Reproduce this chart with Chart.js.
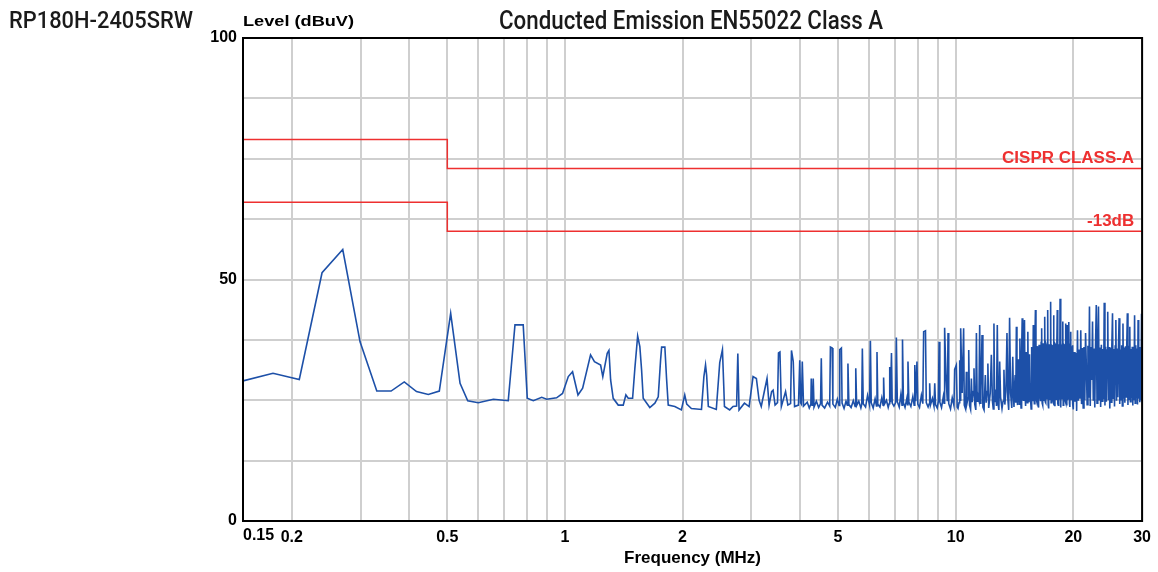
<!DOCTYPE html>
<html>
<head>
<meta charset="utf-8">
<title>RP180H-2405SRW Conducted Emission</title>
<script src="https://cdn.jsdelivr.net/npm/chart.js@4.4.1/dist/chart.umd.min.js"></script>
<style>
  html, body { margin: 0; padding: 0; background: #fff; }
  #wrap { position: relative; width: 1158px; height: 572px; }
</style>
</head>
<body>
<div id="wrap"><canvas id="emi-chart"></canvas></div>
<script>
'use strict';

// ─── texts ───────────────────────────────────────────────────────────────
const MODEL_NAME  = 'RP180H-2405SRW';
const CHART_TITLE = 'Conducted Emission EN55022 Class A';
const Y_TITLE     = 'Level (dBuV)';
const X_TITLE     = 'Frequency (MHz)';

// ─── axes ────────────────────────────────────────────────────────────────
const FREQ_TICKS     = [0.15, 0.2, 0.3, 0.4, 0.5, 0.6, 0.7, 0.8, 0.9, 1, 2, 3, 4, 5, 6, 7, 8, 9, 10, 20, 30];
const FREQ_TICK_TEXT = ['', '0.2', '', '', '0.5', '', '', '', '', '1', '2', '', '', '5', '', '', '', '', '10', '20', '30'];
const FREQ_FIRST_TEXT = '0.15';   // drawn left-aligned at the axis start
const LEVEL_LABELS   = [0, 50, 100];

// ─── limit lines (EN55022 class A, QP) ──────────────────────────────────
const LIMIT_FREQ    = [0.15, 0.5, 0.5, 30];
const LIMIT_CLASS_A = [79, 79, 73, 73];
const LIMIT_MARGIN  = [66, 66, 60, 60];
const LIMIT_NAMES   = ['CISPR CLASS-A', '-13dB'];

// ─── measured trace [MHz, dBuV] ─────────────────────────────────────────
const TRACE_LOW = [
  [0.150, 29.0], [0.179, 30.6], [0.209, 29.3], [0.239, 51.4], [0.270, 56.2],
  [0.299, 37.1], [0.330, 26.9], [0.359, 26.9], [0.388, 28.8], [0.417, 26.8],
  [0.447, 26.2], [0.477, 26.9], [0.510, 43.0], [0.539, 28.5], [0.564, 24.9],
  [0.600, 24.5], [0.656, 25.2], [0.716, 24.9], [0.745, 40.6], [0.782, 40.6],
  [0.801, 25.4], [0.830, 24.9], [0.872, 25.6], [0.898, 25.2], [0.952, 25.5],
  [0.986, 26.4]
];

const TRACE_MID = [
  [1.020, 29.9], [1.046, 30.9], [1.080, 26.1], [1.110, 27.5], [1.163, 34.4],
  [1.190, 33.0], [1.234, 32.3], [1.250, 29.9], [1.283, 34.7], [1.296, 35.3],
  [1.309, 29.2], [1.329, 25.4], [1.369, 24.0], [1.410, 24.0], [1.432, 26.1],
  [1.452, 25.4], [1.490, 25.4], [1.510, 31.6], [1.535, 38.3], [1.555, 36.1],
  [1.571, 31.3], [1.586, 25.4], [1.649, 23.5], [1.699, 24.4], [1.733, 25.7],
  [1.757, 33.3], [1.768, 36.0], [1.802, 36.0], [1.820, 29.5], [1.838, 24.0],
  [1.911, 23.7], [1.986, 23.0], [2.026, 26.1], [2.050, 24.2], [2.107, 23.3],
  [2.236, 23.1], [2.268, 29.9], [2.290, 32.3], [2.305, 30.2], [2.328, 23.7],
  [2.440, 23.1], [2.490, 32.8], [2.530, 35.5], [2.550, 27.8], [2.560, 23.7],
  [2.640, 23.0], [2.693, 23.7], [2.750, 23.8], [2.770, 34.7], [2.790, 23.0],
  [2.880, 24.4], [2.960, 23.7], [3.030, 29.9], [3.090, 29.5], [3.140, 25.0],
  [3.180, 23.7], [3.230, 26.4], [3.290, 29.5], [3.330, 24.0], [3.380, 26.8],
  [3.410, 27.1], [3.450, 24.0], [3.500, 24.5], [3.520, 34.8], [3.550, 35.0],
  [3.580, 23.7], [3.670, 26.8], [3.720, 24.0], [3.780, 24.3], [3.800, 35.3],
  [3.840, 33.0], [3.870, 23.7], [3.960, 24.0], [3.990, 33.3], [4.010, 24.5],
  [4.030, 24.2], [4.050, 33.0], [4.080, 23.8]
];

const TRACE_HIGH = [
  [4.17, 24.6], [4.22, 23.4], [4.26, 24.2], [4.27, 29.5], [4.29, 24.0],
  [4.31, 24.5], [4.32, 29.5], [4.34, 23.6], [4.40, 24.8], [4.46, 23.5],
  [4.51, 24.3], [4.53, 33.7], [4.55, 24.0], [4.62, 23.4], [4.70, 24.6],
  [4.76, 23.8], [4.78, 36.0], [4.83, 35.8], [4.85, 24.2], [4.92, 23.5],
  [4.98, 25.2], [5.03, 23.9], [5.05, 35.5], [5.10, 35.8], [5.12, 24.4],
  [5.18, 23.3], [5.24, 24.8], [5.28, 24.0], [5.30, 32.6], [5.33, 24.1],
  [5.40, 23.5], [5.47, 24.9], [5.53, 23.7], [5.55, 31.6], [5.58, 23.9],
  [5.65, 24.8], [5.72, 23.4], [5.75, 24.2], [5.77, 35.7], [5.80, 24.3],
  [5.88, 23.6], [5.95, 26.0], [6.02, 24.0], [6.05, 37.3], [6.08, 24.5],
  [6.15, 23.4], [6.22, 25.3], [6.27, 23.8], [6.29, 35.0], [6.32, 24.2],
  [6.40, 23.6], [6.47, 25.5], [6.52, 24.0], [6.54, 29.7], [6.57, 24.2],
  [6.65, 25.0], [6.72, 23.5], [6.76, 24.3], [6.78, 31.9], [6.81, 24.6],
  [6.85, 34.8], [6.88, 24.4], [6.95, 23.8], [7.02, 24.5], [7.05, 38.0],
  [7.09, 24.7], [7.17, 23.6], [7.24, 26.2], [7.29, 24.0], [7.31, 37.6],
  [7.35, 24.5], [7.42, 23.5], [7.50, 25.4], [7.53, 24.1], [7.55, 33.0],
  [7.59, 24.6], [7.68, 23.7], [7.77, 25.8], [7.83, 24.0], [7.86, 32.3],
  [7.90, 24.8], [7.96, 33.0], [8.00, 24.2], [8.08, 23.5], [8.17, 26.0],
  [8.24, 24.3], [8.28, 39.2], [8.37, 39.4], [8.41, 24.5], [8.50, 23.6],
  [8.55, 24.2], [8.58, 28.5], [8.62, 24.0], [8.72, 25.4], [8.80, 23.8],
  [8.84, 28.5], [8.88, 24.1], [8.97, 23.4], [9.03, 24.8], [9.07, 37.1],
  [9.11, 24.6], [9.20, 23.5], [9.30, 25.8], [9.34, 24.4], [9.37, 40.0],
  [9.44, 30.5], [9.52, 24.8], [9.56, 38.9], [9.60, 24.3], [9.70, 23.2],
  [9.80, 25.5], [9.90, 23.9], [9.94, 31.4], [10.04, 32.3], [10.09, 23.6]
];

const TRACE_TOP = [
  [10.14, 23.3], [10.20, 24.5], [10.24, 33.3], [10.27, 25.0], [10.30, 39.9],
  [10.39, 26.5], [10.48, 39.9], [10.52, 24.0], [10.60, 23.2], [10.65, 30.9],
  [10.69, 24.4], [10.76, 25.5], [10.80, 35.4], [10.85, 24.0], [10.92, 23.1],
  [10.97, 29.5], [11.02, 24.6], [11.10, 26.8], [11.14, 31.6], [11.19, 24.2],
  [11.26, 23.0], [11.30, 38.9], [11.35, 24.8], [11.40, 26.0], [11.47, 25.0],
  [11.52, 40.6], [11.56, 24.4], [11.60, 27.0], [11.68, 38.5], [11.74, 23.6],
  [11.82, 23.0], [11.91, 30.2], [11.97, 24.5], [12.04, 26.8], [12.09, 32.6],
  [12.15, 23.4], [12.26, 26.5], [12.34, 34.4], [12.42, 24.8], [12.48, 23.2],
  [12.53, 40.9], [12.58, 24.6], [12.65, 27.2], [12.72, 23.8], [12.78, 40.6],
  [12.84, 24.2], [12.90, 23.0], [12.96, 33.0], [13.03, 25.6], [13.14, 23.3],
  [13.22, 24.8], [13.29, 31.3], [13.36, 24.1], [13.45, 26.9], [13.53, 38.9],
  [13.60, 25.2], [13.67, 23.0], [13.74, 42.1], [13.82, 26.5], [13.92, 23.4]
];

// dense sweep 14–20 MHz, one row per MHz
const DENSE_FREQ_A = [
  14.00, 14.05, 14.10, 14.15, 14.20, 14.25, 14.30, 14.35, 14.40, 14.45, 14.50, 14.55, 14.60, 14.65, 14.70, 14.75, 14.80, 14.85, 14.90, 14.95,
  15.00, 15.05, 15.10, 15.15, 15.20, 15.25, 15.30, 15.35, 15.40, 15.45, 15.50, 15.55, 15.60, 15.65, 15.70, 15.75, 15.80, 15.85, 15.90, 15.95,
  16.00, 16.05, 16.10, 16.15, 16.20, 16.25, 16.30, 16.35, 16.40, 16.45, 16.50, 16.55, 16.60, 16.65, 16.70, 16.75, 16.80, 16.85, 16.90, 16.95,
  17.00, 17.05, 17.10, 17.15, 17.20, 17.25, 17.30, 17.35, 17.40, 17.45, 17.50, 17.55, 17.60, 17.65, 17.70, 17.75, 17.80, 17.85, 17.90, 17.95,
  18.00, 18.05, 18.10, 18.15, 18.20, 18.25, 18.30, 18.35, 18.40, 18.45, 18.50, 18.55, 18.60, 18.65, 18.70, 18.75, 18.80, 18.85, 18.90, 18.95,
  19.00, 19.05, 19.10, 19.15, 19.20, 19.25, 19.30, 19.35, 19.40, 19.45, 19.50, 19.55, 19.60, 19.65, 19.70, 19.75, 19.80, 19.85, 19.90, 19.95
];
const DENSE_LEVEL_A = [
  34.0, 26.5, 23.6, 28.0, 30.2, 24.5, 40.2, 26.0, 24.0, 33.5, 27.5, 24.2, 37.8, 26.8, 23.4, 35.0, 42.0, 25.5, 25.0, 36.5,
  41.6, 26.0, 23.8, 35.0, 33.5, 24.5, 39.2, 27.0, 24.6, 34.5, 28.5, 25.0, 23.2, 36.0, 34.0, 24.8, 40.6, 26.5, 24.3, 37.0,
  43.7, 25.5, 25.0, 36.2, 35.4, 24.1, 23.5, 36.5, 33.0, 25.6, 24.8, 37.0, 39.9, 24.4, 24.0, 36.8, 35.2, 25.0, 42.3, 24.7,
  24.5, 36.4, 36.0, 25.3, 43.7, 24.0, 23.3, 36.6, 35.5, 25.2, 45.4, 24.5, 24.8, 36.3, 36.2, 25.0, 42.6, 24.2, 23.9, 36.7,
  36.5, 25.4, 25.2, 36.0, 43.7, 24.3, 24.0, 36.6, 36.0, 25.1, 46.0, 24.6, 23.5, 36.2, 35.8, 25.3, 41.3, 24.0, 24.6, 36.5,
  36.4, 25.0, 40.9, 24.5, 24.1, 36.3, 40.6, 25.2, 25.3, 36.0, 41.2, 24.4, 23.6, 36.6, 39.2, 25.0, 25.0, 36.2, 36.4, 24.3
];

// dense sweep 20–30 MHz, one row per MHz
const DENSE_FREQ_B = [
  20.0, 20.1, 20.2, 20.3, 20.4, 20.5, 20.6, 20.7, 20.8, 20.9,
  21.0, 21.1, 21.2, 21.3, 21.4, 21.5, 21.6, 21.7, 21.8, 21.9,
  22.0, 22.1, 22.2, 22.3, 22.4, 22.5, 22.6, 22.7, 22.8, 22.9,
  23.0, 23.1, 23.2, 23.3, 23.4, 23.5, 23.6, 23.7, 23.8, 23.9,
  24.0, 24.1, 24.2, 24.3, 24.4, 24.5, 24.6, 24.7, 24.8, 24.9,
  25.0, 25.1, 25.2, 25.3, 25.4, 25.5, 25.6, 25.7, 25.8, 25.9,
  26.0, 26.1, 26.2, 26.3, 26.4, 26.5, 26.6, 26.7, 26.8, 26.9,
  27.0, 27.1, 27.2, 27.3, 27.4, 27.5, 27.6, 27.7, 27.8, 27.9,
  28.0, 28.1, 28.2, 28.3, 28.4, 28.5, 28.6, 28.7, 28.8, 28.9,
  29.0, 29.1, 29.2, 29.3, 29.4, 29.5, 29.6, 29.7, 29.8, 29.9,
  30.0
];
const DENSE_LEVEL_B = [
  23.1, 35.0, 24.7, 34.8, 22.8, 39.5, 24.9, 35.5, 25.3, 39.5,
  24.2, 35.8, 23.4, 36.0, 25.0, 38.9, 31.9, 24.1, 36.3, 25.5,
  44.4, 23.8, 36.0, 29.2, 41.3, 24.9, 35.7, 23.5, 36.2, 44.7,
  24.4, 36.0, 44.4, 25.1, 35.9, 23.6, 36.5, 24.8, 35.6, 25.2,
  45.2, 23.9, 36.1, 24.7, 35.4, 43.3, 25.0, 36.0, 23.3, 35.8,
  24.6, 36.3, 43.0, 25.4, 35.6, 23.7, 36.2, 41.6, 24.9, 35.7,
  25.6, 36.0, 42.0, 24.2, 35.5, 25.1, 36.4, 23.8, 40.9, 25.3,
  35.9, 24.5, 36.2, 25.7, 35.8, 43.0, 24.0, 36.3, 25.2, 40.2,
  24.7, 35.6, 25.5, 36.1, 23.9, 35.9, 25.0, 42.6, 24.4, 36.4,
  25.6, 35.7, 24.1, 41.6, 25.3, 36.0, 24.6, 35.8, 25.0, 42.9,
  24.8
];

// ─── colours / fonts ─────────────────────────────────────────────────────
const TRACE_COLOR = '#1d50a8';
const LIMIT_COLOR = '#ee3030';
const GRID_COLOR  = '#cfcfcf';
const LABEL_FONT  = '"Liberation Sans", Arial, sans-serif';
const HEAD_FONT   = 'Roboto, "Liberation Sans", sans-serif';

// ─── helpers ─────────────────────────────────────────────────────────────

function toPoints(xs, ys) {
  return xs.map((x, i) => ({ x, y: ys[i] }));
}

function pairsToPoints(pairs) {
  return pairs.map(([x, y]) => ({ x, y }));
}

/** text squeezed / stretched to a given width */
function drawFitted(ctx, text, x, baseY, width, font, color, align) {
  ctx.save();
  ctx.font = font;
  ctx.fillStyle = color;
  ctx.textAlign = 'left';
  ctx.textBaseline = 'alphabetic';
  const sx = width / ctx.measureText(text).width;
  const left = align === 'center' ? x - width / 2 : align === 'right' ? x - width : x;
  ctx.translate(left, baseY);
  ctx.scale(sx, 1);
  ctx.fillText(text, 0, 0);
  ctx.restore();
}

// ─── plugin: frame, headings, limit names ───────────────────────────────

const emiDecor = {
  id: 'emiDecor',
  afterDraw(chart) {
    const { ctx, chartArea: a, scales } = chart;
    const sx = scales.x, sy = scales.y;

    ctx.save();
    ctx.strokeStyle = '#000';
    ctx.lineWidth = 2;
    ctx.strokeRect(a.left, a.top, a.right - a.left, a.bottom - a.top);
    ctx.restore();

    drawFitted(ctx, MODEL_NAME, 9, 28, 184, '500 24px ' + HEAD_FONT, '#1a1a1a', 'left');
    drawFitted(ctx, CHART_TITLE, 691, 28.5, 384, '500 26px ' + HEAD_FONT, '#1a1a1a', 'center');
    drawFitted(ctx, Y_TITLE, a.left, 26, 111, 'bold 15px ' + LABEL_FONT, '#000', 'left');

    const xr = sx.getPixelForValue(30) - 8;
    drawFitted(ctx, LIMIT_NAMES[0], xr, sy.getPixelForValue(LIMIT_CLASS_A[3]) - 5, 132,
      'bold 16px ' + LABEL_FONT, LIMIT_COLOR, 'right');
    drawFitted(ctx, LIMIT_NAMES[1], xr, sy.getPixelForValue(LIMIT_MARGIN[3]) - 5, 47,
      'bold 16px ' + LABEL_FONT, LIMIT_COLOR, 'right');

    ctx.save();
    ctx.font = 'bold 16px ' + LABEL_FONT;
    ctx.fillStyle = '#000';
    ctx.textAlign = 'left';
    ctx.textBaseline = 'top';
    ctx.fillText(FREQ_FIRST_TEXT, sx.getPixelForValue(FREQ_TICKS[0]), sx.top + 7);
    ctx.restore();
  }
};

// ─── chart ───────────────────────────────────────────────────────────────

const trace = [
  ...pairsToPoints(TRACE_LOW),
  ...pairsToPoints(TRACE_MID),
  ...pairsToPoints(TRACE_HIGH),
  ...pairsToPoints(TRACE_TOP),
  ...toPoints(DENSE_FREQ_A, DENSE_LEVEL_A),
  ...toPoints(DENSE_FREQ_B, DENSE_LEVEL_B)
];

new Chart(document.getElementById('emi-chart'), {
  type: 'line',
  data: {
    datasets: [
      {
        label: LIMIT_NAMES[0],
        data: toPoints(LIMIT_FREQ, LIMIT_CLASS_A),
        borderColor: LIMIT_COLOR,
        borderWidth: 1.5
      },
      {
        label: LIMIT_NAMES[1],
        data: toPoints(LIMIT_FREQ, LIMIT_MARGIN),
        borderColor: LIMIT_COLOR,
        borderWidth: 1.5
      },
      {
        label: Y_TITLE,
        data: trace,
        borderColor: TRACE_COLOR,
        borderWidth: 1.6
      }
    ]
  },
  options: {
    responsive: true,
    maintainAspectRatio: false,
    animation: false,
    layout: { padding: { left: 0, top: 38, right: 14, bottom: 0 } },
    elements: {
      point: { radius: 0, hoverRadius: 0 },
      line: { tension: 0, fill: false }
    },
    plugins: {
      legend: { display: false },
      tooltip: { enabled: false }
    },
    scales: {
      x: {
        type: 'logarithmic',
        min: 0.15,
        max: 30,
        afterBuildTicks: scale => { scale.ticks = FREQ_TICKS.map(v => ({ value: v })); },
        afterFit: scale => { scale.height = 51; },
        ticks: {
          autoSkip: false,
          maxRotation: 0,
          padding: 7,
          color: '#000',
          font: { family: LABEL_FONT, weight: 'bold', size: 16 },
          callback: (v, i) => FREQ_TICK_TEXT[i]
        },
        grid: { color: GRID_COLOR, lineWidth: 2, drawTicks: false },
        border: { display: true, color: '#000', width: 2 },
        title: {
          display: true,
          text: X_TITLE,
          color: '#000',
          font: { family: LABEL_FONT, weight: 'bold', size: 17 },
          padding: { top: 0, bottom: 3 }
        }
      },
      y: {
        min: 0,
        max: 100,
        afterFit: scale => { scale.width = 243; },
        ticks: {
          stepSize: 12.5,
          padding: 6,
          color: '#000',
          font: { family: LABEL_FONT, weight: 'bold', size: 16 },
          callback: v => (LEVEL_LABELS.includes(v) ? String(v) : '')
        },
        grid: { color: GRID_COLOR, lineWidth: 2, drawTicks: false },
        border: { display: true, color: '#000', width: 2 }
      }
    }
  },
  plugins: [emiDecor]
});
</script>
</body>
</html>
